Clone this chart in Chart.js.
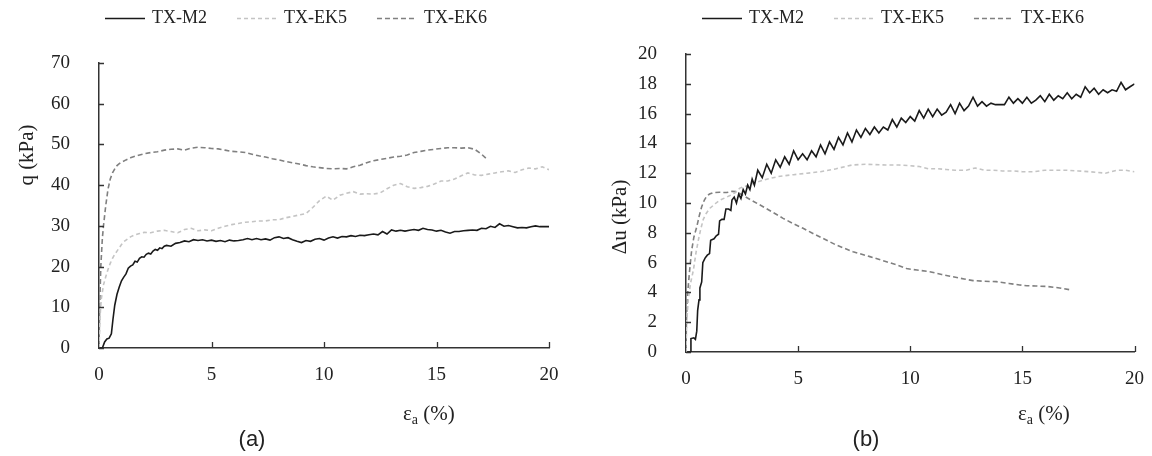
<!DOCTYPE html>
<html lang="en">
<head>
    <meta charset="UTF-8">
    <title>q and du vs axial strain</title>
    <style>
        body { margin: 0; background: #fff; }
        .box { position: absolute; top: 0; width: 576px; height: 456px; }
    </style>
</head>
<body>

<div class="box" style="left:0"><canvas id="chartA"></canvas></div>
<div class="box" style="left:576px"><canvas id="chartB"></canvas></div>

<script src="https://cdn.jsdelivr.net/npm/chart.js"></script>

<script>
    // (a) deviator stress q (kPa) vs axial strain (%)
    const m2aX = [0, 0.15, 0.25, 0.35, 0.45, 0.55, 0.62, 0.7, 0.8, 0.9, 1.0, 1.1, 1.2, 1.3, 1.4, 1.5, 1.6, 1.7, 1.8, 1.9, 2.0, 2.1, 2.2, 2.3, 2.4, 2.5, 2.6, 2.7, 2.8, 2.9, 3.0, 3.2, 3.4, 3.6, 3.8, 4.0, 4.2, 4.4, 4.6, 4.8, 5.0, 5.2, 5.4, 5.6, 5.8, 6.0, 6.2, 6.4, 6.6, 6.8, 7.0, 7.2, 7.4, 7.6, 7.8, 8.0, 8.2, 8.4, 8.6, 8.8, 9.0, 9.2, 9.4, 9.6, 9.8, 10.0, 10.2, 10.4, 10.6, 10.8, 11.0, 11.2, 11.4, 11.6, 11.8, 12.0, 12.2, 12.4, 12.6, 12.8, 13.0, 13.2, 13.4, 13.6, 13.8, 14.0, 14.2, 14.4, 14.6, 14.8, 15.0, 15.2, 15.4, 15.6, 15.8, 16.0, 16.2, 16.4, 16.6, 16.8, 17.0, 17.2, 17.4, 17.6, 17.8, 18.0, 18.2, 18.4, 18.6, 18.8, 19.0, 19.2, 19.4, 19.6, 19.8, 20.0];
    const m2aY = [0, 0, 1.5, 2.2, 2.4, 3.5, 7, 10.5, 13.2, 15, 16.5, 17.4, 18.2, 19.6, 20.1, 20.4, 21.3, 21.1, 22.0, 22.4, 22.3, 23.0, 23.3, 23.1, 23.8, 24.2, 24.0, 24.6, 24.4, 25.0, 25.2, 25.0, 25.7, 25.9, 26.3, 26.1, 26.6, 26.4, 26.6, 26.3, 26.5, 26.2, 26.4, 26.1, 26.5, 26.3, 26.4, 26.6, 26.9, 26.6, 26.9, 26.6, 26.8, 26.5, 27.1, 27.3, 26.9, 27.1, 26.6, 26.2, 25.9, 26.4, 26.2, 26.7, 26.9, 26.5, 27.0, 27.3, 27.0, 27.4, 27.3, 27.6, 27.4, 27.7, 27.6, 27.8, 28.0, 27.8, 28.6, 28.0, 29.0, 28.7, 28.9, 28.7, 28.9, 29.1, 28.9, 29.4, 29.1, 29.0, 28.7, 28.9, 28.5, 28.2, 28.6, 28.6, 28.8, 28.9, 29.0, 28.9, 29.4, 29.3, 29.9, 29.6, 30.5, 29.9, 30.1, 29.8, 29.5, 29.6, 29.5, 29.8, 30.0, 29.8, 29.8, 29.8];

    const ek5aX = [0, 0.05, 0.1, 0.2, 0.3, 0.4, 0.5, 0.6, 0.7, 0.8, 0.9, 1.0, 1.1, 1.2, 1.4, 1.6, 1.8, 2.0, 2.3, 2.6, 2.9, 3.2, 3.5, 3.8, 4.1, 4.4, 4.7, 5.0, 5.3, 5.6, 5.9, 6.2, 6.5, 6.8, 7.1, 7.4, 7.7, 8.0, 8.3, 8.6, 8.9, 9.2, 9.5, 9.8, 10.1, 10.4, 10.7, 11.0, 11.3, 11.6, 11.9, 12.2, 12.5, 12.8, 13.1, 13.4, 13.7, 14.0, 14.3, 14.6, 14.9, 15.2, 15.5, 15.8, 16.1, 16.4, 16.7, 17.0, 17.3, 17.6, 17.9, 18.2, 18.5, 18.8, 19.1, 19.4, 19.7, 20.0];
    const ek5aY = [0, 8, 12, 15.5, 17.5, 19.3, 20.8, 22, 23, 23.8, 24.6, 25.4, 26.1, 26.5, 27.3, 27.8, 28.1, 28.4, 28.3, 28.7, 28.9, 28.6, 28.3, 29.1, 29.4, 28.8, 29.0, 28.8, 29.4, 29.9, 30.3, 30.6, 30.9, 31.0, 31.2, 31.2, 31.5, 31.5, 32.0, 32.3, 32.7, 33.0, 34.5, 36.2, 37.3, 36.3, 37.5, 38.0, 38.4, 37.8, 37.9, 37.8, 38.1, 39.1, 40.0, 40.4, 39.6, 39.2, 39.4, 39.7, 40.3, 41.0, 41.0, 41.5, 42.3, 43.0, 42.5, 42.4, 42.7, 43.0, 43.3, 43.5, 43.1, 43.8, 44.2, 44.0, 44.5, 43.8];

    const ek6aX = [0, 0.03, 0.08, 0.15, 0.2, 0.3, 0.4, 0.5, 0.6, 0.7, 0.8, 0.9, 1.0, 1.2, 1.4, 1.6, 1.8, 2.0, 2.3, 2.6, 2.9, 3.2, 3.5, 3.8, 4.1, 4.4, 4.7, 5.0, 5.3, 5.6, 5.9, 6.2, 6.5, 6.8, 7.1, 7.4, 7.7, 8.0, 8.3, 8.6, 8.9, 9.2, 9.5, 9.8, 10.1, 10.4, 10.7, 11.0, 11.3, 11.6, 11.9, 12.2, 12.5, 12.8, 13.1, 13.4, 13.7, 14.0, 14.3, 14.6, 14.9, 15.2, 15.5, 15.8, 16.1, 16.4, 16.7, 17.0, 17.2];
    const ek6aY = [0, 10, 20, 27, 30, 35, 39, 41.5, 43, 44, 44.8, 45.3, 45.6, 46.2, 46.7, 47.1, 47.4, 47.7, 48.0, 48.2, 48.6, 48.8, 48.9, 48.6, 49.1, 49.3, 49.2, 49.0, 48.9, 48.6, 48.3, 48.2, 48.0, 47.6, 47.2, 46.9, 46.5, 46.2, 45.8, 45.5, 45.2, 44.8, 44.5, 44.3, 44.1, 44.0, 44.1, 44.0, 44.5, 44.9, 45.5, 46.0, 46.3, 46.6, 46.9, 47.1, 47.4, 48.0, 48.3, 48.6, 48.8, 49.0, 49.2, 49.2, 49.1, 49.2, 48.8, 47.6, 46.6];

    // (b) excess pore pressure du (kPa) vs axial strain (%)
    const m2bX = [0.1, 0.2, 0.22, 0.35, 0.42, 0.48, 0.52, 0.58, 0.62, 0.7, 0.75, 0.85, 0.95, 1.05, 1.1, 1.25, 1.35, 1.45, 1.5, 1.6, 1.7, 1.78, 1.9, 2.0, 2.05, 2.15, 2.25, 2.35, 2.45, 2.55, 2.65, 2.75, 2.85, 2.95, 3.05, 3.2, 3.4, 3.6, 3.8, 4.0, 4.2, 4.4, 4.6, 4.8, 5.0, 5.2, 5.4, 5.6, 5.8, 6.0, 6.2, 6.4, 6.6, 6.8, 7.0, 7.2, 7.4, 7.6, 7.8, 8.0, 8.2, 8.4, 8.6, 8.8, 9.0, 9.2, 9.4, 9.6, 9.8, 10.0, 10.2, 10.4, 10.6, 10.8, 11.0, 11.2, 11.4, 11.6, 11.8, 12.0, 12.2, 12.4, 12.6, 12.8, 13.0, 13.2, 13.4, 13.6, 13.8, 14.2, 14.4, 14.6, 14.8, 15.0, 15.2, 15.4, 15.6, 15.8, 16.0, 16.2, 16.4, 16.6, 16.8, 17.0, 17.2, 17.4, 17.6, 17.8, 18.0, 18.2, 18.4, 18.6, 18.8, 19.0, 19.2, 19.4, 19.6, 19.8, 20.0];
    const m2bY = [0, 0, 0.9, 0.95, 0.85, 1.4, 2.8, 3.5, 4.3, 4.7, 6.0, 6.3, 6.5, 6.6, 7.5, 7.6, 7.8, 7.9, 8.8, 8.9, 8.9, 9.6, 9.6, 9.5, 10.2, 10.4, 10.0, 10.6, 10.3, 10.9, 10.6, 11.2, 10.9, 11.6, 11.2, 12.2, 11.7, 12.6, 12.0, 12.9, 12.4, 13.1, 12.6, 13.5, 12.9, 13.3, 12.9, 13.5, 13.1, 13.9, 13.3, 14.1, 13.6, 14.4, 13.9, 14.7, 14.1, 14.9, 14.4, 15.0, 14.6, 15.1, 14.7, 15.1, 14.9, 15.6, 15.1, 15.7, 15.4, 15.8, 15.5, 16.2, 15.7, 16.3, 15.8, 16.3, 15.9, 16.1, 16.6, 16.0, 16.7, 16.2, 16.5, 17.1, 16.5, 16.8, 16.5, 16.7, 16.6, 16.6, 17.1, 16.7, 17.0, 16.7, 17.1, 16.7, 16.9, 17.2, 16.8, 17.3, 16.9, 17.2, 17.0, 17.4, 17.0, 17.3, 17.1, 17.8, 17.4, 17.7, 17.3, 17.6, 17.4, 17.6, 17.5, 18.1, 17.6, 17.8, 18.0];

    const ek5bX = [0, 0.03, 0.1, 0.2, 0.33, 0.45, 0.55, 0.65, 0.77, 0.9, 1.07, 1.3, 1.51, 1.75, 1.96, 2.2, 2.4, 2.8, 3.15, 3.6, 4.2, 4.8, 5.4, 6.0, 6.7, 7.4, 8.0, 8.9, 9.5, 10.0, 10.4, 10.8, 11.2, 11.6, 12.0, 12.5, 12.9, 13.3, 13.7, 14.1, 14.6, 15.0, 15.5, 16.0, 16.5, 17.0, 17.5, 18.0, 18.7, 19.2, 19.6, 20.0];
    const ek5bY = [0, 2, 3.5, 4.6, 5.5, 6.7, 7.5, 8.2, 8.9, 9.3, 9.65, 9.95, 10.2, 10.35, 10.5, 10.7, 11.0, 11.2, 11.4, 11.6, 11.8, 11.9, 12.0, 12.1, 12.3, 12.55, 12.6, 12.55, 12.55, 12.5, 12.45, 12.3, 12.3, 12.25, 12.2, 12.2, 12.35, 12.2, 12.2, 12.15, 12.15, 12.1, 12.1, 12.2, 12.2, 12.2, 12.15, 12.1, 12.0, 12.2, 12.2, 12.1];

    const ek6bX = [0, 0.02, 0.05, 0.15, 0.25, 0.35, 0.48, 0.6, 0.7, 0.82, 0.92, 1.05, 1.22, 1.5, 1.81, 2.05, 2.26, 2.55, 2.9, 3.44, 3.9, 4.33, 4.8, 5.22, 5.6, 6.1, 6.7, 7.45, 8.2, 8.94, 9.4, 9.83, 10.3, 10.87, 11.4, 11.9, 12.4, 12.8, 13.3, 13.84, 14.4, 14.88, 15.2, 15.6, 16.1, 16.66, 17.18];
    const ek6bY = [0, 2, 3.5, 5.3, 6.8, 7.7, 8.4, 9.2, 9.75, 10.2, 10.45, 10.6, 10.7, 10.72, 10.7, 10.78, 10.76, 10.5, 10.2, 9.75, 9.35, 8.97, 8.6, 8.3, 8.0, 7.63, 7.18, 6.73, 6.4, 6.06, 5.85, 5.6, 5.5, 5.39, 5.2, 5.05, 4.9, 4.79, 4.75, 4.72, 4.6, 4.5, 4.45, 4.43, 4.4, 4.3, 4.16];

    const seriesNames = ['TX-M2', 'TX-EK5', 'TX-EK6'];
    const xTicks = {min: 0, max: 20, step: 5};

    const SERIF = "'Liberation Serif', 'Times New Roman', serif";
    const INK = '#222';

    const pts = (xs, ys) => xs.map((x, i) => ({x: x, y: ys[i]}));

    const styles = [
        {borderColor: '#1a1a1a', borderWidth: 1.6, borderDash: []},
        {borderColor: '#c4c4c4', borderWidth: 1.6, borderDash: [4, 3]},
        {borderColor: '#808080', borderWidth: 1.6, borderDash: [5, 3]}
    ];

    // legend, inward tick marks, axis titles and caption
    const decor = {
        id: 'decor',
        afterDraw(chart, args, o) {
            const ctx = chart.ctx;
            const xs = chart.scales.x, ys = chart.scales.y;
            const area = chart.chartArea;
            ctx.save();

            // inward ticks
            ctx.strokeStyle = '#333';
            ctx.lineWidth = 1.3;
            ctx.beginPath();
            xs.ticks.forEach(t => {
                if (t.value === 0) return;
                const px = Math.round(xs.getPixelForValue(t.value)) + 0.5;
                ctx.moveTo(px, area.bottom);
                ctx.lineTo(px, area.bottom - 6);
            });
            ys.ticks.forEach(t => {
                const py = Math.round(ys.getPixelForValue(t.value)) + 0.5;
                ctx.moveTo(area.left, py);
                ctx.lineTo(area.left + 5, py);
            });
            ctx.stroke();

            // legend
            ctx.font = '18px ' + SERIF;
            ctx.textBaseline = 'middle';
            ctx.textAlign = 'left';
            let lx = o.legendX;
            chart.data.datasets.forEach(ds => {
                ctx.strokeStyle = ds.borderColor;
                ctx.lineWidth = 1.6;
                ctx.setLineDash(ds.borderDash || []);
                ctx.beginPath();
                ctx.moveTo(lx, 18.5);
                ctx.lineTo(lx + 40, 18.5);
                ctx.stroke();
                ctx.setLineDash([]);
                ctx.fillStyle = INK;
                ctx.fillText(ds.label, lx + 47, 18);
                lx += 47 + ctx.measureText(ds.label).width + 30;
            });

            // y title
            ctx.save();
            ctx.translate(o.yTitleX, o.yTitleY);
            ctx.rotate(-Math.PI / 2);
            ctx.font = '21px ' + SERIF;
            ctx.textAlign = 'center';
            ctx.textBaseline = 'middle';
            ctx.fillText(o.yTitle, 0, 0);
            ctx.restore();

            // x title with subscript
            ctx.textBaseline = 'alphabetic';
            let tx = o.xTitleX;
            ctx.font = '21px ' + SERIF;
            ctx.fillText('ε', tx, 420);
            tx += ctx.measureText('ε').width;
            ctx.font = '14px ' + SERIF;
            ctx.fillText('a', tx, 424);
            tx += ctx.measureText('a').width;
            ctx.font = '21px ' + SERIF;
            ctx.fillText(' (%)', tx, 420);

            // caption
            ctx.font = "22px 'Liberation Sans', Arial, sans-serif";
            ctx.textAlign = 'center';
            ctx.textBaseline = 'middle';
            ctx.fillText(o.caption, o.captionX, 440);
            ctx.restore();
        }
    };

    function makeChart(id, data, yMax, yStep, box, decorOpts) {
        const datasets = data.map((d, i) => Object.assign({
            label: seriesNames[i],
            data: d,
            pointRadius: 0,
            tension: 0,
            fill: false
        }, styles[i]));

        return new Chart(document.getElementById(id), {
            type: 'line',
            data: {datasets: datasets},
            options: {
                responsive: true,
                maintainAspectRatio: false,
                animation: false,
                layout: {padding: {top: box.top, right: box.right, bottom: 0, left: 0}},
                scales: {
                    x: {
                        type: 'linear',
                        min: xTicks.min,
                        max: xTicks.max,
                        ticks: {stepSize: xTicks.step, color: INK, font: {family: SERIF, size: 19}, padding: 8, maxRotation: 0},
                        grid: {display: false},
                        border: {display: true, color: '#333', width: 1.5},
                        afterFit: s => { s.height = box.xHeight; }
                    },
                    y: {
                        min: 0,
                        max: yMax,
                        ticks: {stepSize: yStep, color: INK, font: {family: SERIF, size: 19}, padding: 21},
                        grid: {display: false},
                        border: {display: true, color: '#333', width: 1.5},
                        afterFit: s => { s.width = box.yWidth; }
                    }
                },
                plugins: {
                    legend: {display: false},
                    tooltip: {enabled: false},
                    decor: decorOpts
                }
            },
            plugins: [decor]
        });
    }

    makeChart('chartA', [pts(m2aX, m2aY), pts(ek5aX, ek5aY), pts(ek6aX, ek6aY)], 70, 10,
        {top: 63, right: 27, xHeight: 108, yWidth: 99},
        {legendX: 105, yTitle: 'q (kPa)', yTitleX: 27, yTitleY: 155, xTitleX: 403, caption: '(a)', captionX: 252});

    makeChart('chartB', [pts(m2bX, m2bY), pts(ek5bX, ek5bY), pts(ek6bX, ek6bY)], 20, 2,
        {top: 54, right: 17, xHeight: 104, yWidth: 110},
        {legendX: 126, yTitle: 'Δu (kPa)', yTitleX: 44, yTitleY: 217, xTitleX: 442, caption: '(b)', captionX: 290});
</script>

</body>
</html>
